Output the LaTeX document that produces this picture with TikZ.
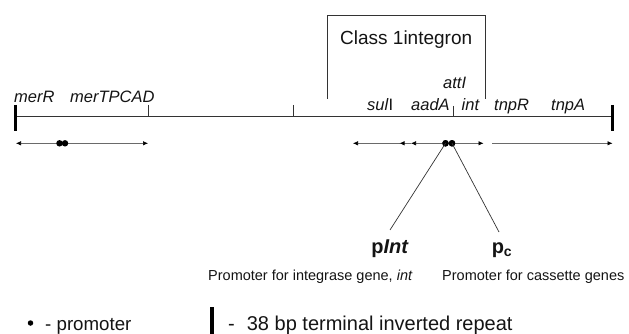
\documentclass[tikz,border=0pt]{standalone}
\usepackage{fontspec}
\setmainfont{Liberation Sans}
\usetikzlibrary{arrows.meta}
\definecolor{ink}{HTML}{141414}
\definecolor{linegray}{HTML}{333333}
\definecolor{arrgray}{HTML}{6A6A6A}
\begin{document}
\begin{tikzpicture}[x=1pt,y=-1pt,
  gene/.style={font=\fontsize{16.5}{18}\selectfont\itshape, inner sep=0pt, anchor=base west, text=ink},
  small/.style={font=\fontsize{14.5}{16}\selectfont, inner sep=0pt, anchor=base west, text=ink},
  legend/.style={font=\fontsize{18.7}{20}\selectfont, inner sep=0pt, anchor=base west, text=ink},
  plabel/.style={font=\fontsize{20}{22}\selectfont\bfseries, inner sep=0pt, anchor=base, text=ink},
  mainline/.style={draw=linegray, line width=1pt},
  tickmark/.style={draw=linegray, line width=0.8pt},
  termbar/.style={draw=black, line width=3pt},
  gtip/.tip={Latex[length=5pt,width=4.5pt,color=black]},
  gar/.style={draw=arrgray, line width=0.6pt, -gtip},
  gar2/.style={draw=arrgray, line width=0.6pt, gtip-gtip},
  dot/.style={circle, fill=black, inner sep=0pt, minimum size=6.5pt},
  leader/.style={draw=linegray, line width=0.7pt},
  bracket/.style={draw=linegray, line width=0.8pt}]
\useasboundingbox (0,0) rectangle (629,334);

% main line
\coordinate (L) at (15,117);
\coordinate (R) at (612.5,117);
\draw[mainline] (L) -- (R);

% terminal inverted repeats
\coordinate (Lt) at (15,105); \coordinate (Lb) at (15,131);
\coordinate (Rt) at (612.5,105); \coordinate (Rb) at (612.5,131);
\draw[termbar] (Lt) -- (Lb);
\draw[termbar] (Rt) -- (Rb);

% tick marks
\coordinate (k1t) at (148,105); \coordinate (k1b) at (148,117);
\coordinate (k2t) at (293,105); \coordinate (k2b) at (293,117);
\coordinate (k3t) at (453,106); \coordinate (k3b) at (453,117);
\draw[tickmark] (k1t) -- (k1b);
\draw[tickmark] (k2t) -- (k2b);
\draw[tickmark] (k3t) -- (k3b);

% integron bracket
\coordinate (b1) at (327,99); \coordinate (b2) at (327,15.5);
\coordinate (b3) at (485,15.5); \coordinate (b4) at (485,99);
\draw[bracket] (b1) -- (b2) -- (b3) -- (b4);
\node[legend, font=\fontsize{19}{21}\selectfont] (cls) at (340,45) {Class 1integron};

% gene labels
\node[gene] (merR) at (14,103) {merR};
\node[gene] (merT) at (70,103) {merTPCAD};
\node[gene] (attI) at (443,89) {attI};
\node[gene] (sulI) at (367,111) {sul\textup{I}};
\node[gene] (aadA) at (411,111) {aadA};
\node[gene] (int) at (461.5,111) {int};
\node[gene] (tnpR) at (494,111) {tnpR};
\node[gene] (tnpA) at (551,111) {tnpA};

% transcription arrows
\coordinate (m1) at (16,143.3); \coordinate (m2) at (148,143.3);
\draw[gar2] (m1) -- (m2);
\node[dot] (d1) at (59.5,143.3) {};
\node[dot] (d2) at (65,143.3) {};

\coordinate (s1) at (353,143.3);
\coordinate (s2) at (399.5,143.3);
\coordinate (s3) at (411,143.3);
\coordinate (i1) at (483.5,143.3);
\coordinate (t0) at (492,143.3);
\coordinate (t1) at (612.5,143.3);
\node[dot] (pd1) at (445.5,143.3) {};
\node[dot] (pd2) at (452,143.3) {};
\draw[gar] (s2) -- (s1);
\draw[gar] (s3) -- (s2);
\draw[gar] (pd1.center) -- (s3);
\draw[gar] (pd2.center) -- (i1);
\draw[gar] (t0) -- (t1);
\node[dot] at (pd1) {};
\node[dot] at (pd2) {};

% promoter labels
\node[plabel] (pint) at (390,253) {p\textit{Int}};
\node[plabel] (pc) at (502,253) {p\textsubscript{c}};
\coordinate (pintend) at (390,230);
\coordinate (pcend) at (499,232);
\draw[leader] (pd1.center) -- (pintend);
\draw[leader] (pd2.center) -- (pcend);

\node[small] (pintdesc) at (208,280) {Promoter for integrase gene, \textit{int}};
\node[small] (pcdesc) at (442,280) {Promoter for cassette genes};

% legend
\node[dot, minimum size=5.5pt] (ldot) at (30.5,323) {};
\node[legend] (ltxt) at (45,330) {- promoter};
\coordinate (lb1) at (212,307); \coordinate (lb2) at (212,334);
\draw[draw=black, line width=3.5pt] (lb1) -- (lb2);
\node[legend, font=\fontsize{20}{22}\selectfont] (rtxt) at (228,330) {-\hspace{0.6em}38 bp terminal inverted repeat};
\end{tikzpicture}
\end{document}
